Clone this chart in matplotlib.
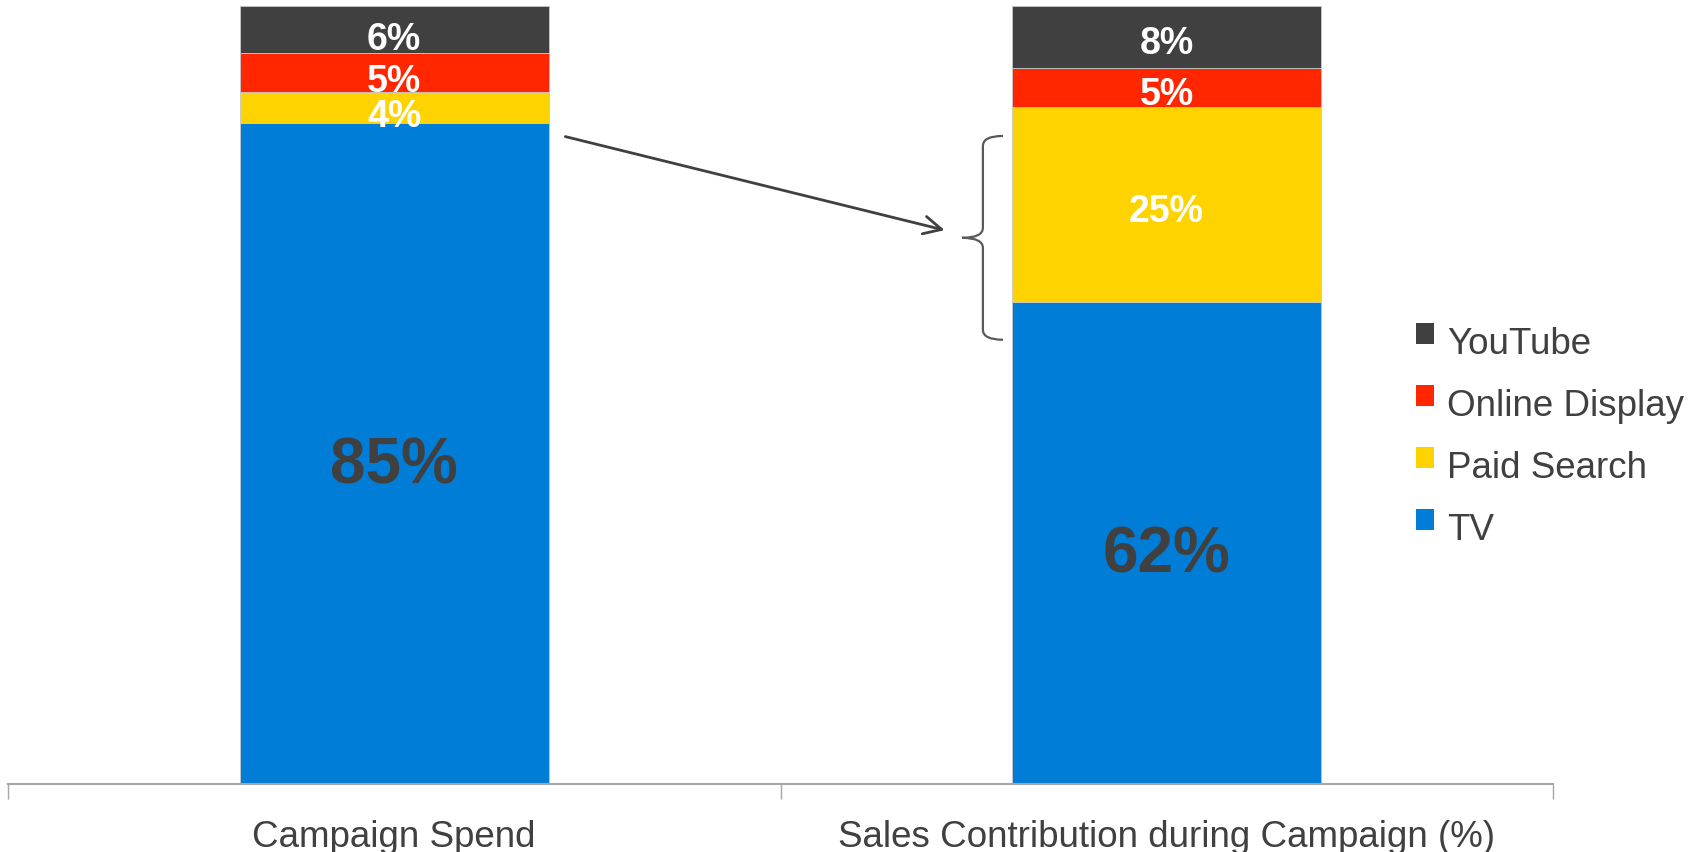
import matplotlib.pyplot as plt
from matplotlib.patches import Patch, PathPatch, Rectangle
from matplotlib.path import Path
from matplotlib.legend_handler import HandlerPatch

plt.rcParams['font.family'] = ['Liberation Sans', 'DejaVu Sans']

# stacked shares, bottom to top
categories = ['Campaign Spend', 'Sales Contribution during Campaign (%)']
channels = ['TV', 'Paid Search', 'Online Display', 'YouTube']
tv = [85, 62]
paid_search = [4, 25]
online_display = [5, 5]
youtube = [6, 8]

colors = {'TV': '#007DD6', 'Paid Search': '#FFD300',
          'Online Display': '#FF2600', 'YouTube': '#404040'}
dark = '#404040'

fig = plt.figure(figsize=(17.02, 8.53), dpi=100)
ax = fig.add_axes([8 / 1702, 68 / 853, 1545 / 1702, 778 / 853])

x = list(range(len(categories)))
series = {'TV': tv, 'Paid Search': paid_search,
          'Online Display': online_display, 'YouTube': youtube}
bottom = [0] * len(categories)
for z, name in enumerate(channels):
    vals = series[name]
    ax.bar(x, vals, width=0.4, bottom=bottom, color=colors[name],
           edgecolor='#C8C8C8', linewidth=0.6, zorder=2 + 2 * z)
    for i, v in enumerate(vals):
        yc = bottom[i] + v / 2
        if name == 'TV':
            ax.text(i, yc - 1.5, f'{v}%', ha='center', va='center', fontsize=46,
                    fontweight='bold', color=dark, zorder=20)
        else:
            # drawn under the next segment up, so a tight label gets clipped by it
            dy = 1.2 if i == 0 else 0.8
            ax.text(i, yc - dy, f'{v}%', ha='center', va='center', fontsize=27,
                    fontweight='bold', color='white', zorder=3 + 2 * z)
    bottom = [b + v for b, v in zip(bottom, vals)]

ax.set_xlim(-0.5, 1.5)
ax.set_ylim(0, 100)
for s in ['top', 'right', 'left']:
    ax.spines[s].set_visible(False)
ax.spines['bottom'].set_color('#A6A6A6')
ax.spines['bottom'].set_linewidth(1.5)
ax.set_yticks([])

# category boundaries as ticks, names in between
ax.set_xticks([-0.5, 0.5, 1.5])
ax.set_xticklabels([])
ax.tick_params(axis='x', which='major', length=11, width=1, color='#A6A6A6')
ax.set_xticks(x, minor=True)
ax.set_xticklabels(categories, minor=True, fontsize=26.5, color=dark)
ax.tick_params(axis='x', which='minor', length=0, pad=25)

# arrow from spend to the paid search share
ax.annotate('', xy=(0.716, 71.1), xytext=(0.218, 83.3),
            arrowprops=dict(arrowstyle='->', color=dark, lw=2,
                            mutation_scale=32))

# curly brace beside the paid search segment
bx, btop, bbot, tipx, tipy = 0.762, 83.3, 57.1, 0.735, 70.2
verts = [(0.788, btop), (bx, btop), (bx, btop - 1.3),
         (bx, tipy + 1.3),
         (bx, tipy), (tipx, tipy), (bx, tipy), (bx, tipy - 1.3),
         (bx, bbot + 1.3),
         (bx, bbot), (0.788, bbot)]
codes = [Path.MOVETO, Path.CURVE3, Path.CURVE3,
         Path.LINETO,
         Path.CURVE3, Path.CURVE3, Path.CURVE3, Path.CURVE3,
         Path.LINETO,
         Path.CURVE3, Path.CURVE3]
ax.add_patch(PathPatch(Path(verts, codes), fill=False, edgecolor='#595959',
                       linewidth=1.6, clip_on=False))


def raised_square(legend, orig_handle, xdescent, ydescent, width, height, fontsize):
    return Rectangle((-xdescent, -ydescent + 0.3 * height), width, height)


handles = [Patch(facecolor=colors[n], label=n) for n in reversed(channels)]
fig.legend(handles=handles, loc='upper left', bbox_to_anchor=(1416 / 1702, 1 - 327 / 853),
           frameon=False, fontsize=26.5, labelcolor=dark, handlelength=0.5,
           handleheight=0.5, handletextpad=0.35, labelspacing=0.73, borderpad=0,
           borderaxespad=0,
           handler_map={Patch: HandlerPatch(patch_func=raised_square)})

fig.savefig('out.png', dpi=100)
